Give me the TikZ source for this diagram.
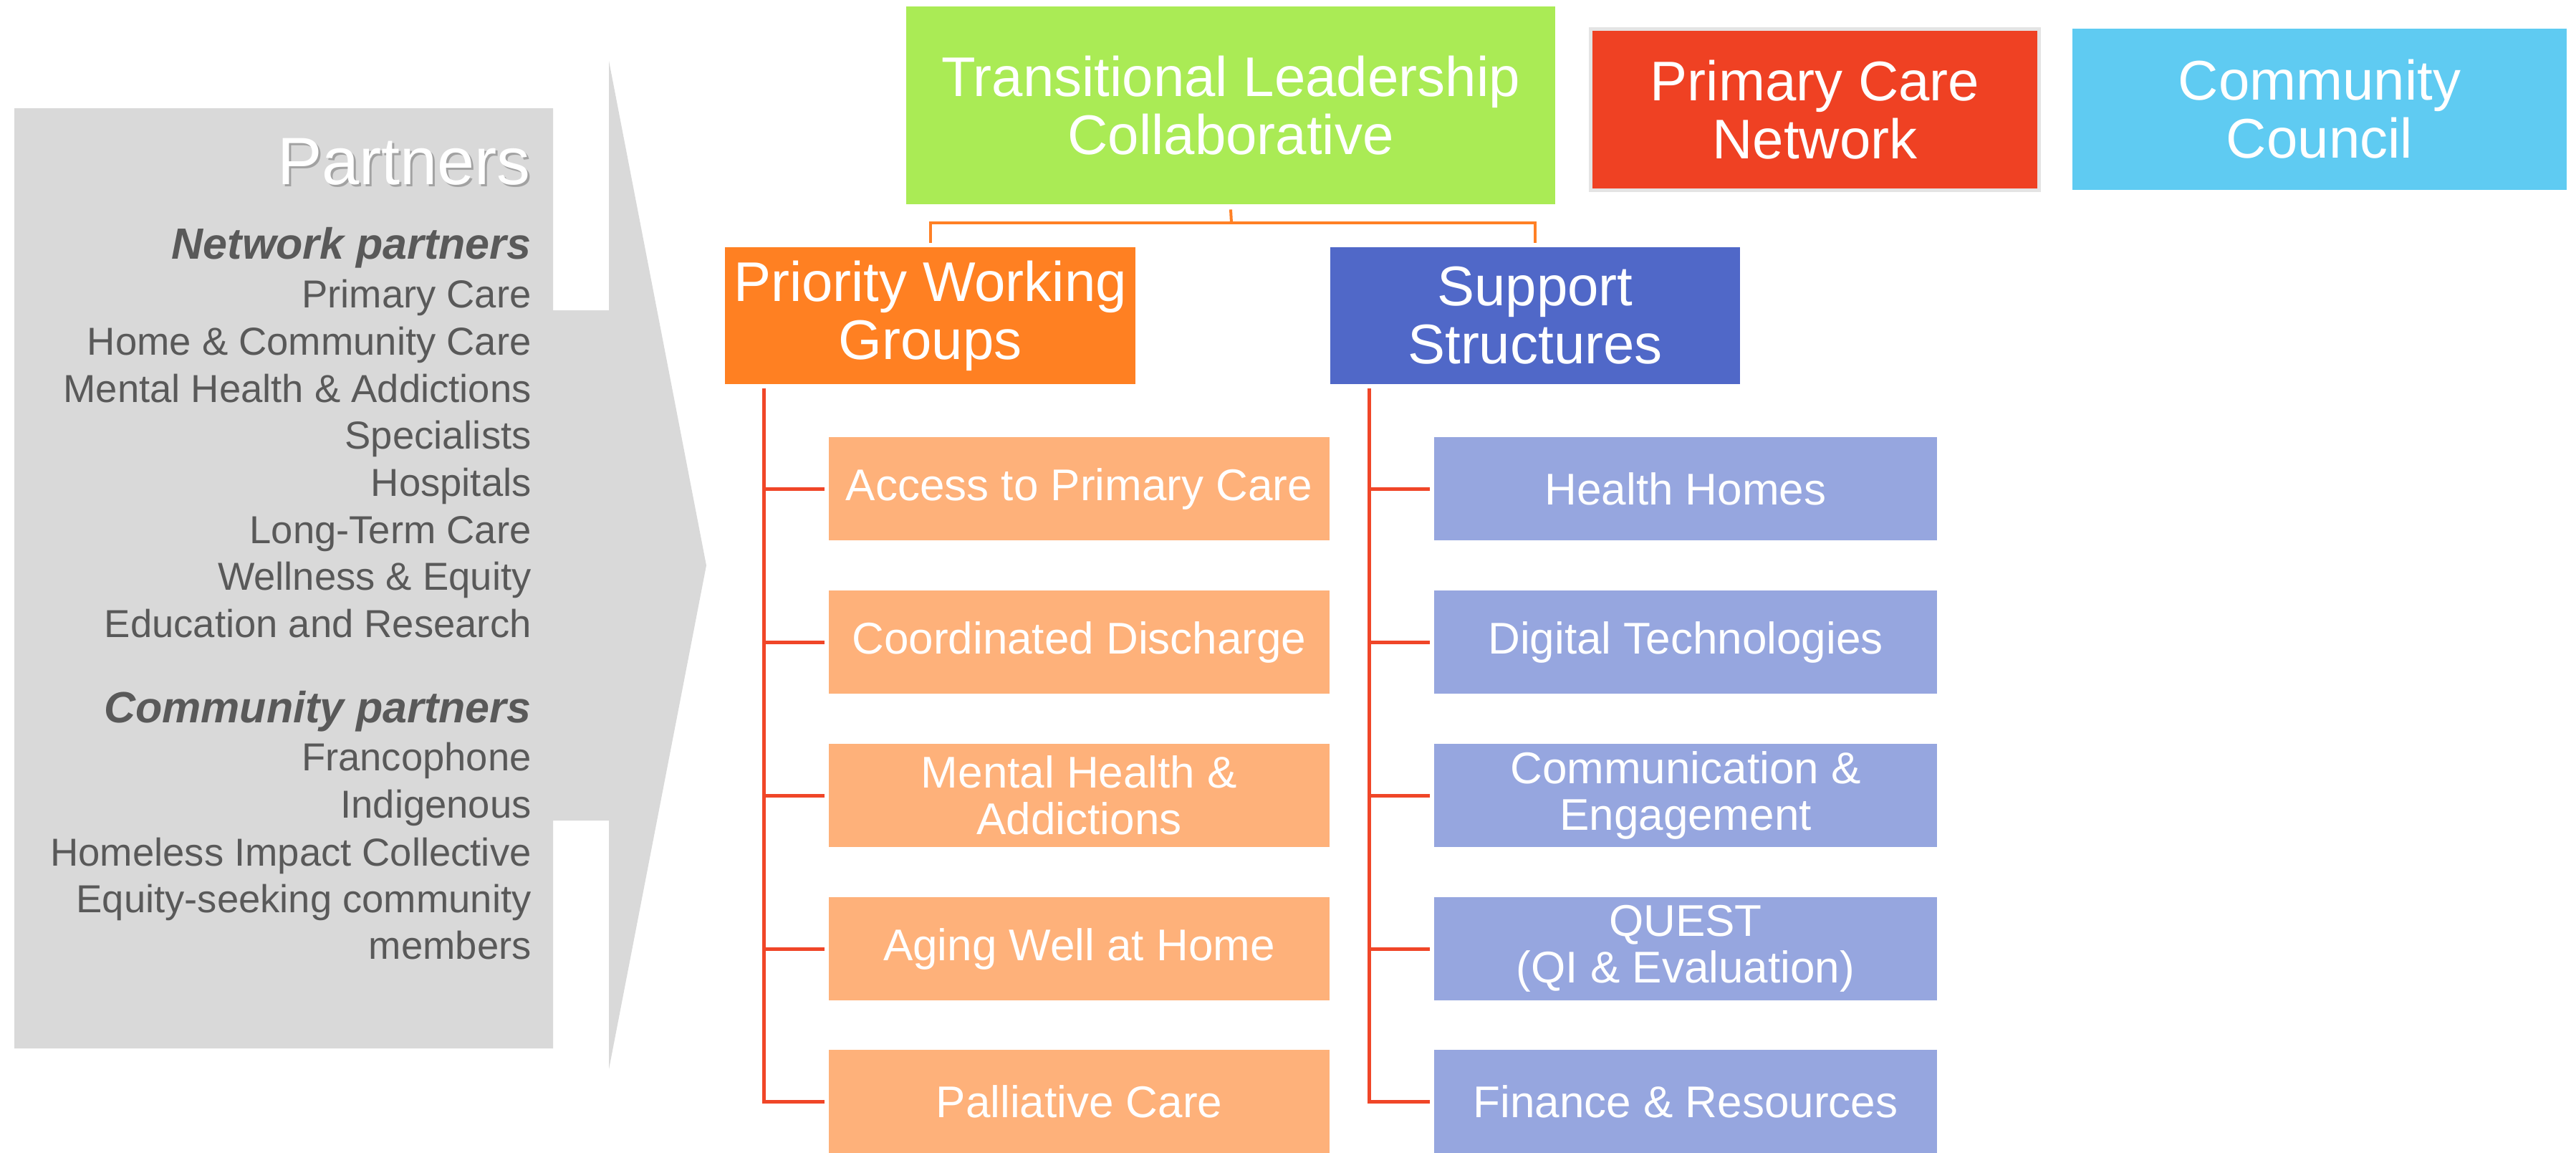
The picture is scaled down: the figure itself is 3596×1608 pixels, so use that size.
\documentclass[tikz,border=0pt]{standalone}
\usepackage{fontspec}
\setmainfont{Liberation Sans}
\definecolor{cGreen}{RGB}{170,235,85}
\definecolor{cRed}{RGB}{239,65,35}
\definecolor{cBorder}{RGB}{228,228,228}
\definecolor{cSky}{RGB}{95,203,242}
\definecolor{cOrange}{RGB}{255,128,34}
\definecolor{cBlue}{RGB}{80,104,200}
\definecolor{cLtOrange}{RGB}{254,177,122}
\definecolor{cLtBlue}{RGB}{150,166,223}
\definecolor{cLine}{RGB}{240,70,40}
\definecolor{cConn}{RGB}{255,128,37}
\definecolor{cPanel}{RGB}{217,217,217}
\definecolor{cText}{RGB}{89,89,89}
\begin{document}
\begin{tikzpicture}[x=0.5pt,y=-0.5pt,
  box/.style={inner sep=0pt, text=white, align=center, font=\fontsize{39pt}{40.5pt}\selectfont},
  sub/.style={inner sep=0pt, text=white, align=center, minimum height=72pt, font=\fontsize{31pt}{32.5pt}\selectfont},
  subo/.style={sub, fill=cLtOrange, minimum width=349.5pt},
  subb/.style={sub, fill=cLtBlue, minimum width=351pt},
  tree/.style={draw=cLine, line width=2.5pt},
  conn/.style={draw=cConn, line width=2pt},
  item/.style={anchor=base east, inner sep=0pt, text=cText, font=\fontsize{27.2pt}{30pt}\selectfont},
  head/.style={anchor=base east, inner sep=0pt, text=cText, font=\fontsize{30.5pt}{33pt}\selectfont\bfseries\itshape}]
\useasboundingbox (0,0) rectangle (3596,1608);

% partners panel with arrow
\fill[cPanel] (20,151) -- (772,151) -- (772,433) -- (850,433) -- (850,85) -- (986,789)
  -- (850,1492) -- (850,1145) -- (772,1145) -- (772,1463) -- (20,1463) -- cycle;

\node[anchor=base east, inner sep=0pt, text=black!45, opacity=0.7, font=\fontsize{46.75pt}{50pt}\selectfont] (ptsh) at (744,260) {Partners};
\node[anchor=base east, inner sep=0pt, text=white, font=\fontsize{46.75pt}{50pt}\selectfont] (pt) at (741,257) {Partners};
\node[head] (h1) at (742,361) {Network partners};
\node[item] (n1) at (742,429) {Primary Care};
\node[item] (n2) at (742,495) {Home \& Community Care};
\node[item] (n3) at (742,561) {Mental Health \& Addictions};
\node[item] (n4) at (742,626) {Specialists};
\node[item] (n5) at (742,692) {Hospitals};
\node[item] (n6) at (742,758) {Long-Term Care};
\node[item] (n7) at (742,823) {Wellness \& Equity};
\node[item] (n8) at (742,889) {Education and Research};
\node[head] (h2) at (742,1008) {Community partners};
\node[item] (c1) at (742,1075) {Francophone};
\node[item] (c2) at (742,1141) {Indigenous};
\node[item] (c3) at (742,1208) {Homeless Impact Collective};
\node[item] (c4) at (742,1273) {Equity-seeking community};
\node[item] (c5) at (742,1338) {members};

% top boxes
\node[box, fill=cGreen, minimum width=453pt, minimum height=138pt] (tlc) at (1718,147) {Transitional Leadership\\Collaborative};
\node[box, fill=cRed, draw=cBorder, line width=2.5pt, minimum width=313pt, minimum height=112.5pt] (pcn) at (2533.5,153) {Primary Care\\Network};
\node[box, fill=cSky, minimum width=345pt, minimum height=112.5pt] (cc) at (3238,152.5) {Community\\Council};
\node[box, fill=cOrange, minimum width=286.5pt, minimum height=95.5pt] (pwg) at (1298.5,440.5) {Priority Working\\Groups};
\node[box, fill=cBlue, minimum width=286pt, minimum height=95.5pt] (ss) at (2143,440.5) {Support\\Structures};

% connector from TLC
\coordinate (j) at (1719,311);
\draw[conn] ([yshift=-3.5pt]tlc.south) -- (j);
\draw[conn] ([yshift=3pt]pwg.north) |- (j) -| ([yshift=3pt]ss.north);

% sub boxes
\node[subo] (a1) at (1506.5,682) {Access to Primary Care};
\node[subo] (a2) at (1506.5,896) {Coordinated Discharge};
\node[subo] (a3) at (1506.5,1110) {Mental Health \&\\Addictions};
\node[subo] (a4) at (1506.5,1324) {Aging Well at Home};
\node[subo] (a5) at (1506.5,1537) {Palliative Care};

\node[subb] (b1) at (2353,682) {Health Homes};
\node[subb] (b2) at (2353,896) {Digital Technologies};
\node[subb] (b3) at (2353,1110) {Communication \&\\Engagement};
\node[subb] (b4) at (2353,1324) {QUEST\\(QI \& Evaluation)};
\node[subb] (b5) at (2353,1537) {Finance \& Resources};

% tree lines
\coordinate (lt) at (1066,542);
\coordinate (rt) at (1911,542);
\draw[tree] (lt) |- ([xshift=-3pt]a5.west);
\draw[tree] (rt) |- ([xshift=-3pt]b5.west);
\foreach \i in {1,2,3,4}{
  \draw[tree] (lt |- a\i.west) -- ([xshift=-3pt]a\i.west);
  \draw[tree] (rt |- b\i.west) -- ([xshift=-3pt]b\i.west);
}
\end{tikzpicture}
\end{document}
